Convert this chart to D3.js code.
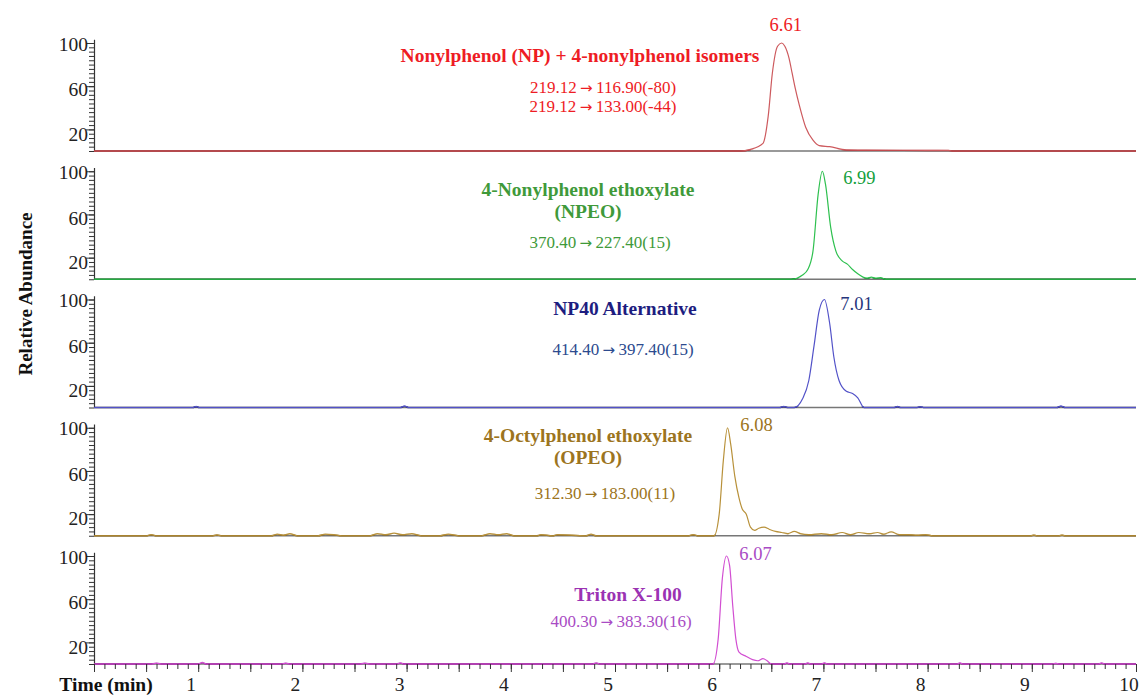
<!DOCTYPE html>
<html>
<head>
<meta charset="utf-8">
<script src="https://cdn.jsdelivr.net/npm/d3@7"></script>
<style>
  body { margin: 0; background: #fff; }
  text { font-family: "Liberation Serif", "DejaVu Serif", serif; }
  .arrow { font-family: "DejaVu Sans", sans-serif; }
</style>
</head>
<body>
<div id="chart"></div>
<script>
// Chromatogram data (retention time in min, relative abundance in %)
// ----------------------------------------------------------------------

// Nonylphenol (NP) + 4-nonylphenol isomers
var npTime = [0, 6.20, 6.30, 6.42, 6.47, 6.51, 6.56, 6.60, 6.63, 6.67, 6.70, 6.73, 6.77, 6.83, 6.90, 6.96, 7.06, 7.22, 7.40, 8.00, 8.20, 8.25, 10];
var npAbund = [0, 0, 1.5, 7, 32, 72, 97, 100, 97, 86, 72, 58, 42, 22, 10, 5, 4, 1, 0.8, 0.6, 0.5, 0, 0];

// 4-Nonylphenol ethoxylate (NPEO)
var npeoTime = [0, 6.69, 6.80, 6.85, 6.90, 6.95, 6.99, 7.02, 7.07, 7.12, 7.18, 7.23, 7.28, 7.33, 7.38, 7.42, 7.46, 7.50, 7.55, 7.60, 10];
var npeoAbund = [0, 0, 4, 9, 26, 79, 100, 88, 48, 26, 17, 14, 9, 5, 2, 1, 2, 1, 1.5, 0, 0];

// NP40 Alternative
var np40Time = [0, 0.95, 0.98, 1.01, 2.94, 2.98, 3.02, 6.58, 6.62, 6.66, 6.72, 6.80, 6.86, 6.91, 6.96, 7.01, 7.06, 7.10, 7.15, 7.22, 7.28, 7.33, 7.39, 7.68, 7.71, 7.74, 7.90, 7.93, 7.96, 9.24, 9.28, 9.32, 10];
var np40Abund = [0, 0, 1, 0, 0, 1.5, 0, 0, 1, 0, 0, 8, 25, 57, 90, 100, 78, 47, 25, 15, 13, 9, 0, 0, 1, 0, 0, 0.7, 0, 0, 1.5, 0, 0];

// 4-Octylphenol ethoxylate (OPEO)
var opeoTime = [0, 0.50, 0.55, 0.60, 1.14, 1.18, 1.22, 1.70, 1.76, 1.82, 1.88, 1.95, 2.15, 2.22, 2.30, 2.38, 2.65, 2.72, 2.80, 2.88, 2.96, 3.05, 3.14, 3.32, 3.40, 3.50, 3.72, 3.80, 3.88, 3.96, 4.03, 4.25, 4.29, 4.40, 4.45, 4.72, 4.77, 4.82, 5.70, 5.75, 5.80, 5.95, 6.00, 6.04, 6.08, 6.11, 6.15, 6.19, 6.22, 6.26, 6.30, 6.34, 6.38, 6.43, 6.48, 6.54, 6.60, 6.66, 6.72, 6.78, 6.86, 6.98, 7.08, 7.18, 7.26, 7.34, 7.44, 7.52, 7.58, 7.65, 7.73, 7.82, 7.90, 7.98, 8.05, 8.99, 9.02, 9.05, 9.26, 9.29, 9.32, 10];
var opeoAbund = [0, 0, 1, 0, 0, 0.8, 0, 0, 1.5, 0.5, 2, 0, 0, 1.5, 1, 0, 0, 2, 1, 2.5, 1, 2, 0, 0, 1.5, 0, 0, 2, 1, 2, 0, 0, 1, 0, 1, 0, 1.5, 0, 0, 1, 0, 0, 20, 70, 100, 85, 55, 35, 25, 20, 8, 5, 7, 8, 6, 4, 3, 2, 4, 2, 1, 2, 1, 3, 1, 3, 2, 3, 1.5, 3.5, 1, 1, 0.5, 1, 0, 0, 0.6, 0, 0, 0.6, 0, 0];

// Triton X-100
var tritonTime = [0, 0.55, 0.60, 0.65, 1.00, 1.04, 1.08, 1.80, 1.84, 1.88, 2.55, 2.60, 2.65, 2.90, 2.94, 2.98, 4.78, 4.82, 4.86, 5.94, 5.99, 6.03, 6.07, 6.10, 6.13, 6.16, 6.19, 6.26, 6.32, 6.37, 6.42, 6.46, 6.50, 6.62, 6.65, 6.68, 6.82, 6.85, 6.88, 6.98, 7.01, 7.04, 8.28, 8.31, 8.34, 9.20, 9.23, 9.26, 9.64, 9.67, 9.70, 10];
var tritonAbund = [0, 0, 0.8, 0, 0, 1.5, 0, 0, 0.8, 0, 0, 0.8, 0, 0, 1, 0, 0, 1, 0, 0, 23, 79, 100, 91, 54, 23, 11, 7, 4, 3, 5, 3, 0, 0, 1, 0, 0, 1, 0, 0, 1, 0, 0, 1, 0, 0, 0.6, 0, 0, 1, 0, 0];

// Panel texts
var compoundNames = [
  ["Nonylphenol (NP) + 4-nonylphenol isomers"],
  ["4-Nonylphenol ethoxylate", "(NPEO)"],
  ["NP40 Alternative"],
  ["4-Octylphenol ethoxylate", "(OPEO)"],
  ["Triton X-100"]
];
// Each transition: [precursor, product, collision energy]
var transitions = [
  [["219.12", "116.90", "(-80)"], ["219.12", "133.00", "(-44)"]],
  [["370.40", "227.40", "(15)"]],
  [["414.40", "397.40", "(15)"]],
  [["312.30", "183.00", "(11)"]],
  [["400.30", "383.30", "(16)"]]
];
var peakTimes = [6.60, 6.99, 7.01, 6.08, 6.07];
var peakLabels = ["6.61", "6.99", "7.01", "6.08", "6.07"];

// Axis tick labels
var xTickLabels = [1, 2, 3, 4, 5, 6, 7, 8, 9, 10];
var yTickLabels = [20, 60, 100];

// Building the panel list
var traces = [
  { time: npTime, abund: npAbund },
  { time: npeoTime, abund: npeoAbund },
  { time: np40Time, abund: np40Abund },
  { time: opeoTime, abund: opeoAbund },
  { time: tritonTime, abund: tritonAbund }
];

// Styling per panel
var lineColors = ["#cd5a5e", "#2ec04f", "#5252c8", "#b8913a", "#d24fd2"];
var baseColors = ["#9c1d22", "#0c6b1c", "#14146e", "#7d5a12", "#8a128a"];
var titleColors = ["#ee1c24", "#3f9a3a", "#1d1d80", "#9c7420", "#9b32b3"];
var subColors = ["#ee1c24", "#3f9a3a", "#2c4a8e", "#9c7420", "#a94bc4"];
var peakColors = ["#ee1c24", "#14a03c", "#26357c", "#9c7420", "#a94bc4"];

// Text offsets from the panel baseline: [centre x, baseline dy] for each line
var titlePos = [
  [[580, -89]],
  [[588, -83], [588, -61]],
  [[625, -93]],
  [[588, -94], [588, -72]],
  [[628, -63]]
];
var subPos = [
  [[603, -58], [603, -39]],
  [[600, -31]],
  [[623, -53]],
  [[605, -37]],
  [[621, -37]]
];
var peakOffset = [[4, -120], [37, -95], [32, -98], [29, -105], [29, -104]];

// Setting width and height
var width = 1141;
var height = 695;

var svg = d3
  .select("#chart")
  .append("svg")
  .attr("width", width)
  .attr("height", height);

// Shared time scale
var xScale = d3.scaleLinear().domain([0, 10]).range([94, 1136]);

// Baseline of each panel
var baseScale = d3.scaleLinear().domain([0, 4]).range([151, 664]);

var panelHeight = 108;

traces.forEach(function(trace, i) {
  var base = baseScale(i);
  var yScale = d3.scaleLinear().domain([0, 100]).range([base, base - panelHeight]);

  var g = svg.append("g").attr("class", "panel");

  // Minor y ticks every 4 %
  var yMinor = d3.axisLeft(yScale)
    .tickValues(d3.range(0, 101, 4))
    .tickSize(5)
    .tickSizeOuter(0)
    .tickFormat("");
  var yMajor = d3.axisLeft(yScale)
    .tickValues(yTickLabels)
    .tickSize(8)
    .tickSizeOuter(0)
    .tickFormat(d3.format("d"));

  var yAxisG = g.append("g")
    .attr("transform", "translate(" + xScale(0) + ",0)")
    .call(yMinor);
  yAxisG.select(".domain").remove();

  var yLab = g.append("g")
    .attr("transform", "translate(" + xScale(0) + ",0)")
    .call(yMajor);
  yLab.select(".domain").remove();
  yLab.selectAll("text")
    .attr("x", -6)
    .attr("dy", function(d) { return d === 100 ? "0.36em" : d === 60 ? "0.5em" : "0.55em"; })
    .style("font-size", "19.5px")
    .style("font-family", "Liberation Serif")
    .style("fill", "#222");

  g.selectAll(".tick line").attr("stroke", "#333");

  // Vertical axis line
  g.append("line")
    .attr("x1", xScale(0) + 0.5)
    .attr("x2", xScale(0) + 0.5)
    .attr("y1", yScale(0))
    .attr("y2", yScale(103))
    .attr("stroke", "#333")
    .attr("stroke-width", 1.2);

  // Grey zero line
  g.append("line")
    .attr("x1", xScale(0))
    .attr("x2", xScale(10))
    .attr("y1", base)
    .attr("y2", base)
    .attr("stroke", "#777")
    .attr("stroke-width", 1.5);

  var line = d3.line()
    .x(function(d) { return xScale(d[0]); })
    .y(function(d) { return yScale(d[1]); })
    .curve(d3.curveMonotoneX);

  var pts = trace.time.map(function(t, k) { return [t, trace.abund[k]]; });

  // Darker trace along the baseline
  svg.append("clipPath")
    .attr("id", "clipBase" + i)
    .append("rect")
    .attr("x", 0)
    .attr("y", base - 1.2)
    .attr("width", width)
    .attr("height", 3);

  g.append("path")
    .datum(pts)
    .attr("d", line)
    .attr("fill", "none")
    .attr("stroke", baseColors[i])
    .attr("stroke-width", 1.6)
    .attr("clip-path", "url(#clipBase" + i + ")");

  g.append("path")
    .datum(pts)
    .attr("d", line)
    .attr("fill", "none")
    .attr("stroke", lineColors[i])
    .attr("stroke-width", 1.2);

  // Compound name
  compoundNames[i].forEach(function(txt, k) {
    g.append("text")
      .attr("x", titlePos[i][k][0])
      .attr("y", base + titlePos[i][k][1])
      .attr("text-anchor", "middle")
      .style("font-size", "19.5px")
      .style("font-weight", "bold")
      .style("fill", titleColors[i])
      .text(txt);
  });

  // MRM transitions
  transitions[i].forEach(function(tr, k) {
    var t = g.append("text")
      .attr("x", subPos[i][k][0])
      .attr("y", base + subPos[i][k][1])
      .attr("text-anchor", "middle")
      .style("font-size", "17px")
      .style("fill", subColors[i]);
    t.append("tspan").text(tr[0] + "\u2009");
    t.append("tspan").attr("class", "arrow").style("font-size", "15px").text("\u2192");
    t.append("tspan").text("\u2009" + tr[1] + tr[2]);
  });

  // Retention time label at the apex
  g.append("text")
    .attr("x", xScale(peakTimes[i]) + peakOffset[i][0])
    .attr("y", base + peakOffset[i][1])
    .attr("text-anchor", "middle")
    .style("font-size", "18.5px")
    .style("fill", peakColors[i])
    .text(peakLabels[i]);
});

// X axis under the last panel
var xBase = baseScale(4);

var xMinor = d3.axisBottom(xScale)
  .tickValues(d3.range(0, 100.5, 1).map(function(v) { return v / 10; }))
  .tickSize(5)
  .tickSizeOuter(0)
  .tickFormat("");
var xMajor = d3.axisBottom(xScale)
  .tickValues(d3.range(0, 20.5, 1).map(function(v) { return v / 2; }))
  .tickSize(8)
  .tickSizeOuter(0)
  .tickFormat("");

svg.append("g")
  .attr("transform", "translate(0," + xBase + ")")
  .call(xMinor)
  .call(function(g) { g.select(".domain").remove(); });
svg.append("g")
  .attr("transform", "translate(0," + xBase + ")")
  .call(xMajor)
  .call(function(g) { g.select(".domain").remove(); });

svg.selectAll(".tick line").attr("stroke", "#333");

// Integer labels
svg.append("g")
  .selectAll("text")
  .data(xTickLabels)
  .enter()
  .append("text")
  .attr("x", function(d) { return xScale(d) - 7; })
  .attr("y", 691)
  .attr("text-anchor", "middle")
  .style("font-size", "19.5px")
  .style("fill", "#222")
  .text(function(d) { return d; });

// Axis titles
svg.append("text")
  .attr("x", 106)
  .attr("y", 691)
  .attr("text-anchor", "middle")
  .style("font-size", "19.5px")
  .style("font-weight", "bold")
  .style("fill", "#111")
  .text("Time (min)");

svg.append("text")
  .attr("transform", "translate(32,294)rotate(-90)")
  .attr("text-anchor", "middle")
  .style("font-size", "19px")
  .style("font-weight", "bold")
  .style("fill", "#111")
  .text("Relative Abundance");
</script>
</body>
</html>
